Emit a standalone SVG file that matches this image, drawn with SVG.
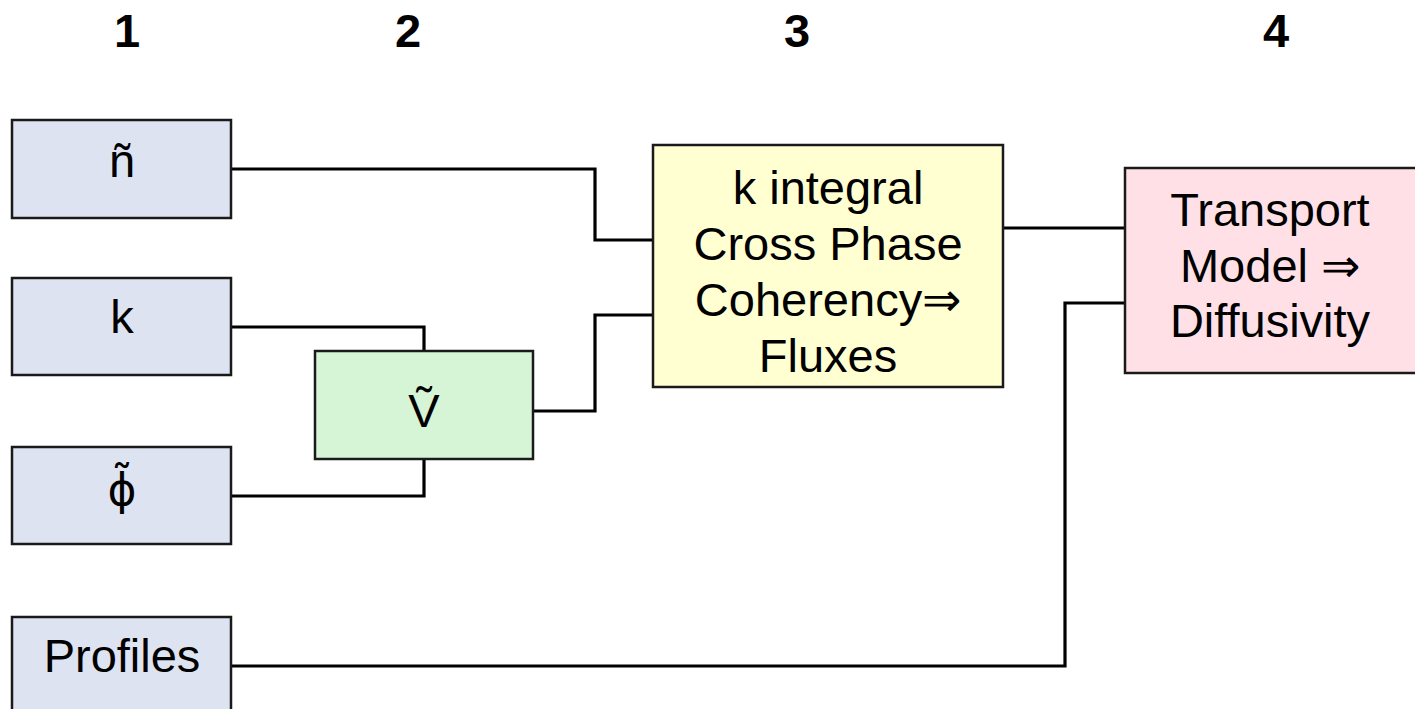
<svg xmlns="http://www.w3.org/2000/svg" width="1415" height="709" viewBox="0 0 1415 709">
<style>
.box{stroke:#1a1a1a;stroke-width:2.5}
.in{fill:#dde3f1}
.v{fill:#d6f5d6}
.f{fill:#ffffd2}
.t{fill:#ffe0e6}
.lbl{font-family:"Liberation Sans",Arial,sans-serif;font-size:47px;fill:#000;text-anchor:middle}
.dv{font-family:"DejaVu Sans",sans-serif;font-size:44px}
.hd{font-family:"Liberation Sans",Arial,sans-serif;font-size:47px;font-weight:bold;fill:#000;text-anchor:middle}
.conn{fill:none;stroke:#000;stroke-width:3.2}
</style>
<rect width="1415" height="709" fill="#fff"/>
<g id="headers">
<text class="hd" x="127" y="47">1</text>
<text class="hd" x="408" y="47">2</text>
<text class="hd" x="797" y="47">3</text>
<text class="hd" x="1276" y="47">4</text>
</g>
<g id="connectors">
<path class="conn" d="M231,169 H595 V240 H653"/>
<path class="conn" d="M231,327 H424 V351"/>
<path class="conn" d="M231,496 H424 V459"/>
<path class="conn" d="M533,411 H595 V315 H653"/>
<path class="conn" d="M1003,228 H1125"/>
<path class="conn" d="M231,666 H1065 V303 H1125"/>
</g>
<g id="node-n">
<rect class="box in" x="12" y="120" width="219" height="98"/>
<text class="lbl" x="122" y="177">ñ</text>
</g>
<g id="node-k">
<rect class="box in" x="12" y="278" width="219" height="97"/>
<text class="lbl" x="122" y="333">k</text>
</g>
<g id="node-phi">
<rect class="box in" x="12" y="447" width="219" height="97"/>
<text class="lbl dv" x="122" y="505">ϕ̃</text>
</g>
<g id="node-profiles">
<rect class="box in" x="12" y="617" width="219" height="100"/>
<text class="lbl" x="122" y="672">Profiles</text>
</g>
<g id="node-v">
<rect class="box v" x="315" y="351" width="218" height="108"/>
<text class="lbl" x="424" y="427">Ṽ</text>
</g>
<g id="node-flux">
<rect class="box f" x="653" y="145" width="350" height="242"/>
<text class="lbl" x="828" y="204">k integral</text>
<text class="lbl" x="828" y="260">Cross Phase</text>
<text class="lbl" x="828" y="316">Coherency⇒</text>
<text class="lbl" x="828" y="372">Fluxes</text>
</g>
<g id="node-transport">
<rect class="box t" x="1125" y="168" width="300" height="205"/>
<text class="lbl" x="1270" y="226">Transport</text>
<text class="lbl" x="1270" y="282">Model ⇒</text>
<text class="lbl" x="1270" y="337">Diffusivity</text>
</g>
</svg>
